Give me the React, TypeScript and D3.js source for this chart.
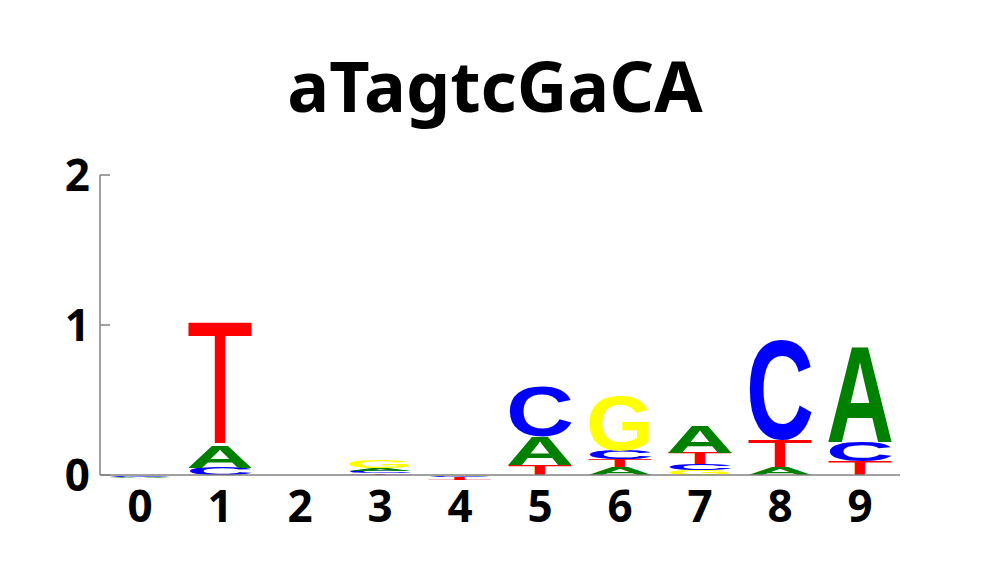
import React, { useMemo } from "react";
import * as d3 from "d3";

const title = "aTagtcGaCA";
const positions = [0, 1, 2, 3, 4, 5, 6, 7, 8, 9];
const bases = ["A", "C", "G", "T"];

// letter heights (bits) per position; negative values are drawn below zero
const heightsA = [-0.01, 0.15, 0.003, 0.018, -0.003, 0.19, 0.05, 0.18, 0.053, 0.64];
const heightsC = [-0.005, 0.05, -0.002, 0.016, -0.005, 0.33, 0.058, 0.04, 0.667, 0.127];
const heightsG = [-0.003, 0, 0.003, 0.055, -0.004, 0, 0.367, 0.033, 0, 0];
const heightsT = [-0.003, 0.81, -0.002, 0.012, -0.014, 0.065, 0.055, 0.073, 0.18, 0.093];

const yTicks = [0, 1, 2];

const colors: Record<string, string> = {
  A: "#008000",
  C: "#0000ff",
  G: "#ffff00",
  T: "#ff0000",
};

const W = 1000;
const H = 575;
const glyphFonts: Record<string, string> = {
  A: "bold 100px 'Liberation Sans'",
  C: "bold 100px 'Liberation Sans'",
  G: "bold 100px 'Liberation Sans'",
  T: "100px 'Liberation Sans'",
};

type Metric = { adv: number; asc: number; desc: number };

function measureGlyphs(): Record<string, Metric> {
  const ctx = document.createElement("canvas").getContext("2d")!;
  const out: Record<string, Metric> = {};
  bases.forEach((b) => {
    ctx.font = glyphFonts[b];
    const m = ctx.measureText(b);
    out[b] = {
      adv: m.width,
      asc: m.actualBoundingBoxAscent,
      desc: m.actualBoundingBoxDescent,
    };
  });
  return out;
}

export default function App() {
  const metrics = useMemo(measureGlyphs, []);

  const x = d3
    .scaleBand<number>()
    .domain(positions)
    .range([100, 900])
    .paddingInner(0.15)
    .paddingOuter(0.075);
  const y = d3.scaleLinear().domain([0, 2]).range([475, 175]);

  const table = [heightsA, heightsC, heightsG, heightsT];

  const glyphs: JSX.Element[] = [];
  positions.forEach((p, i) => {
    const vals = bases.map((b, k) => ({ b, v: table[k][i] }));
    const pos = vals.filter((d) => d.v > 0).sort((a, b) => a.v - b.v);
    const neg = vals.filter((d) => d.v < 0).sort((a, b) => b.v - a.v);
    const x0 = x(p)!;
    const bw = x.bandwidth();

    let acc = 0;
    pos.forEach((d) => {
      const yb = y(acc);
      const yt = y(acc + d.v);
      acc += d.v;
      const m = metrics[d.b];
      const sx = bw / m.adv;
      const sy = (yb - yt) / (m.asc + m.desc);
      glyphs.push(
        <text
          key={`${p}-${d.b}`}
          transform={`translate(${x0},${yb}) scale(${sx},${sy}) translate(0,${-m.desc})`}
          fill={colors[d.b]}
          style={{ font: glyphFonts[d.b] }}
        >
          {d.b}
        </text>
      );
    });

    let nacc = 0;
    neg.forEach((d) => {
      const yt = y(nacc);
      const yb = y(nacc + d.v);
      nacc += d.v;
      const m = metrics[d.b];
      const sx = bw / m.adv;
      const sy = (yb - yt) / (m.asc + m.desc);
      glyphs.push(
        <text
          key={`${p}-${d.b}-n`}
          transform={`translate(${x0},${yt}) scale(${sx},${-sy}) translate(0,${-m.desc})`}
          fill={colors[d.b]}
          style={{ font: glyphFonts[d.b] }}
        >
          {d.b}
        </text>
      );
    });
  });

  const axisColor = "#808080";
  const tickStyle = { fontFamily: "'Noto Sans'", fontWeight: 700, fontSize: 44 };

  return (
    <svg
      width={W}
      height={H}
      style={{ position: "absolute", left: 0, top: 0, background: "#fff" }}
    >
      <text
        x={495}
        y={112}
        textAnchor="middle"
        style={{ fontFamily: "'Noto Sans'", fontWeight: 700, fontSize: 70 }}
      >
        {title}
      </text>

      {glyphs}

      {/* axes */}
      <line x1={100} x2={900} y1={y(0)} y2={y(0)} stroke={axisColor} strokeWidth={1.5} />
      <line x1={100} x2={100} y1={y(2)} y2={y(0)} stroke={axisColor} strokeWidth={1.5} />
      {yTicks.map((t) => (
        <g key={t}>
          <line x1={100} x2={110} y1={y(t)} y2={y(t)} stroke={axisColor} strokeWidth={1.5} />
          <text x={90} y={y(t)} dy="0.36em" textAnchor="end" style={tickStyle}>
            {t}
          </text>
        </g>
      ))}
      {positions.map((p) => (
        <text
          key={p}
          x={x(p)! + x.bandwidth() / 2}
          y={522}
          textAnchor="middle"
          style={tickStyle}
        >
          {p}
        </text>
      ))}
    </svg>
  );
}
